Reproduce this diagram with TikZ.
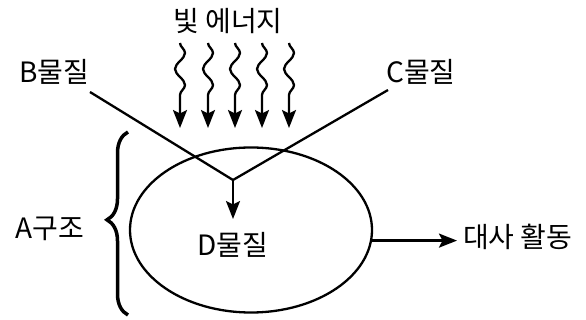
\documentclass[tikz,border=0pt]{standalone}
\usepackage{fontspec}
\newfontfamily\kr{Noto Sans CJK KR}
\usetikzlibrary{arrows.meta,shapes.geometric,decorations.pathmorphing,decorations.pathreplacing}
\begin{document}
\begin{tikzpicture}[x=1pt,y=-1pt,
  lbl/.style={font=\kr\fontsize{28}{28}\selectfont, inner sep=0pt},
  ln/.style={line width=2.3pt},
  tip/.style={-{Stealth[length=18pt,width=14pt,inset=3.5pt]}},
  wave/.style={ln, tip, decorate, decoration={snake, segment length=32pt, amplitude=5pt, post length=26pt}}]
\useasboundingbox (0,0) rectangle (586,320);
\node[lbl] (light) at (228,21) {빛 에너지};
\node[lbl] (B) at (54,72) {B물질};
\node[lbl] (C) at (421,72) {C물질};
\node[lbl] (A) at (50,229) {A구조};
\node[lbl] (D) at (233,245) {D물질};
\node[lbl, anchor=west] (act) at (463,237) {대사 활동};
\node[draw, ln, ellipse, minimum width=242pt, minimum height=165pt, inner sep=0pt] (cell) at (251,230) {};
\coordinate (b0) at (90,92);
\coordinate (c0) at (388,90);
\coordinate (j) at (233,180);
\coordinate (dtip) at (233,219);
\coordinate (acttip) at (457,237);
\draw[ln] (b0) -- (j) -- (c0);
\draw[ln, tip] (j) -- (dtip);
\draw[ln, tip] (cell.-5) -- (acttip |- cell.-5);
\foreach \i/\x in {1/180,2/208,3/235,4/262,5/289}{
  \coordinate (w\i a) at (\x,43);
  \coordinate (w\i b) at (\x,128);
  \draw[wave] (w\i a) -- (w\i b);
}
\coordinate (br1) at (128,132);
\coordinate (br2) at (128,315);
\draw[line width=3.5pt, decorate, decoration={brace, amplitude=21pt, aspect=0.52}] (br2) -- (br1);
\end{tikzpicture}
\end{document}
